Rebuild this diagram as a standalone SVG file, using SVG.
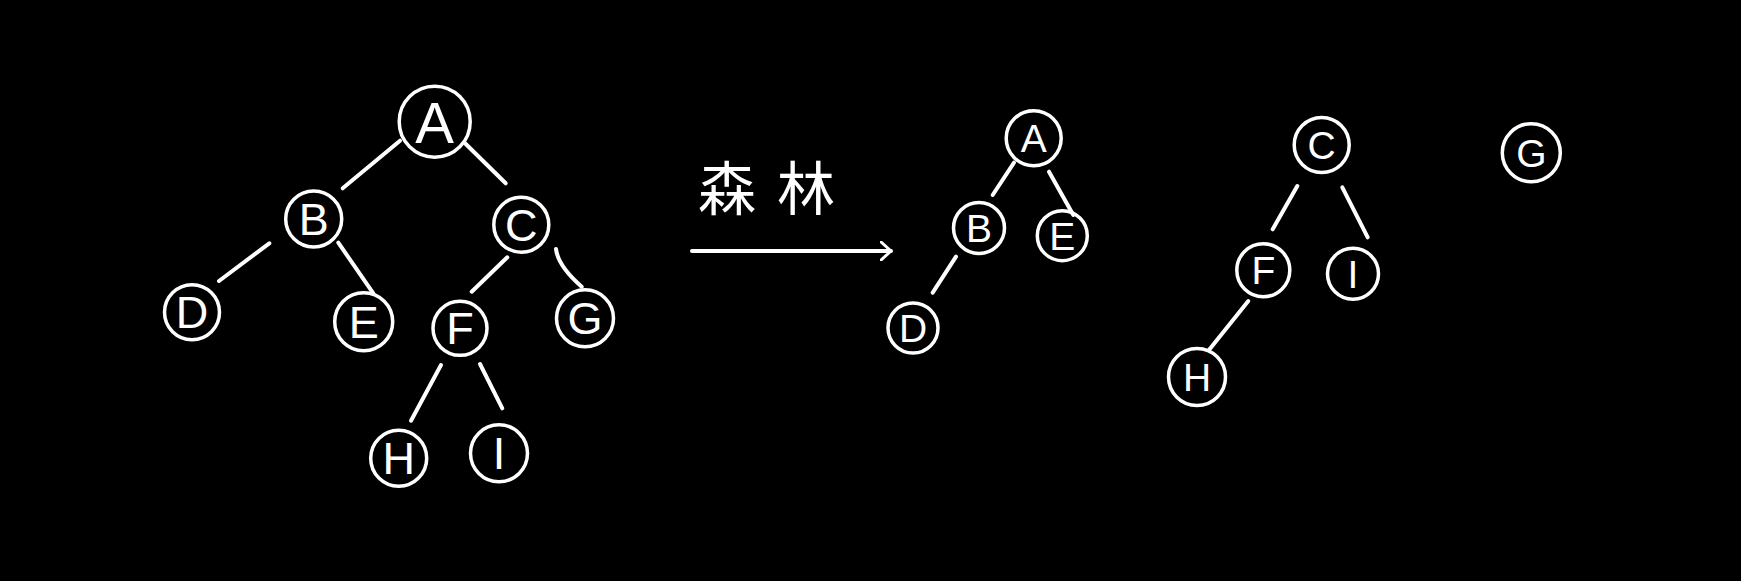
<svg xmlns="http://www.w3.org/2000/svg" width="1741" height="581" viewBox="0 0 1741 581">
<defs>
<style>
.n circle{fill:none;stroke:#fff;stroke-width:3.5}
.n text{fill:#fff;font-family:"Liberation Sans","DejaVu Sans",sans-serif;font-size:45px;text-anchor:middle}
.n text.big{font-size:58px}
.n text.sm{font-size:39px}
#edges line,#edges path{stroke:#fff;stroke-width:4;stroke-linecap:round;fill:none}
.lbl{fill:#fff;font-family:"Noto Sans CJK SC",sans-serif;font-size:58px}
</style>
<marker id="arr" viewBox="0 0 12 20" refX="11" refY="10" markerWidth="12" markerHeight="20" markerUnits="userSpaceOnUse" orient="auto">
<path d="M1,1 L11,10 L1,19" fill="none" stroke="#fff" stroke-width="3" stroke-linecap="round" stroke-linejoin="round"/>
</marker>
</defs>
<rect width="1741" height="581" fill="#000"/>
<g id="edges">
<line x1="400" y1="140.7" x2="342.7" y2="188.3"/>
<line x1="465" y1="143.3" x2="505.7" y2="183.3"/>
<line x1="269.3" y1="243.3" x2="219" y2="281"/>
<line x1="338.3" y1="242.7" x2="373.3" y2="293.3"/>
<line x1="507.3" y1="257.3" x2="471.7" y2="291.7"/>
<path d="M556,249 Q558,266 581.7,286.7"/>
<line x1="441" y1="365" x2="411" y2="420.7"/>
<line x1="480" y1="364" x2="502.3" y2="408.3"/>
<line x1="1014" y1="162.7" x2="992.7" y2="195"/>
<line x1="1049" y1="171.7" x2="1073.3" y2="215"/>
<line x1="956" y1="256.7" x2="932.7" y2="292.7"/>
<line x1="1297.3" y1="186" x2="1272.7" y2="229.3"/>
<line x1="1342.3" y1="187.3" x2="1367.7" y2="237.3"/>
<line x1="1248.3" y1="301" x2="1209" y2="350"/>
<line x1="692" y1="251" x2="891" y2="251" marker-end="url(#arr)"/>
</g>
<text class="lbl" x="698" y="210">森</text>
<text class="lbl" x="777" y="210">林</text>
<g id="nA" class="n"><circle cx="434.7" cy="121.7" r="35.5"/><text class="big" x="434.7" y="142.5">A</text></g>
<g id="nB" class="n"><circle cx="313.7" cy="219" r="28"/><text x="313.7" y="235">B</text></g>
<g id="nC" class="n"><circle cx="521.3" cy="224.7" r="27.5"/><text x="521.3" y="240.7">C</text></g>
<g id="nD" class="n"><circle cx="192" cy="312.3" r="27.5"/><text x="192" y="328.3">D</text></g>
<g id="nE" class="n"><circle cx="363.7" cy="321.7" r="29"/><text x="363.7" y="337.7">E</text></g>
<g id="nF" class="n"><circle cx="460" cy="328.3" r="27"/><text x="460" y="344.3">F</text></g>
<g id="nG" class="n"><circle cx="585" cy="318.3" r="28.5"/><text x="585" y="334.3">G</text></g>
<g id="nH" class="n"><circle cx="398.7" cy="458.3" r="28"/><text x="398.7" y="474.3">H</text></g>
<g id="nI" class="n"><circle cx="499" cy="453.3" r="28.5"/><text x="499" y="469.3">I</text></g>
<g id="nA2" class="n"><circle cx="1033.7" cy="138.3" r="27.5"/><text class="sm" x="1033.7" y="152.3">A</text></g>
<g id="nB2" class="n"><circle cx="979" cy="228" r="25.5"/><text class="sm" x="979" y="242">B</text></g>
<g id="nE2" class="n"><circle cx="1062.3" cy="235.7" r="25"/><text class="sm" x="1062.3" y="249.7">E</text></g>
<g id="nD2" class="n"><circle cx="913" cy="328" r="25"/><text class="sm" x="913" y="342">D</text></g>
<g id="nC3" class="n"><circle cx="1321.7" cy="145" r="27.5"/><text class="sm" x="1321.7" y="159">C</text></g>
<g id="nG3" class="n"><circle cx="1531.3" cy="152.7" r="29"/><text class="sm" x="1531.3" y="166.7">G</text></g>
<g id="nF3" class="n"><circle cx="1263.3" cy="270.3" r="26.5"/><text class="sm" x="1263.3" y="284.3">F</text></g>
<g id="nI3" class="n"><circle cx="1353" cy="273.7" r="25.5"/><text class="sm" x="1353" y="287.7">I</text></g>
<g id="nH3" class="n"><circle cx="1197" cy="377" r="28.5"/><text class="sm" x="1197" y="391">H</text></g>
</svg>
